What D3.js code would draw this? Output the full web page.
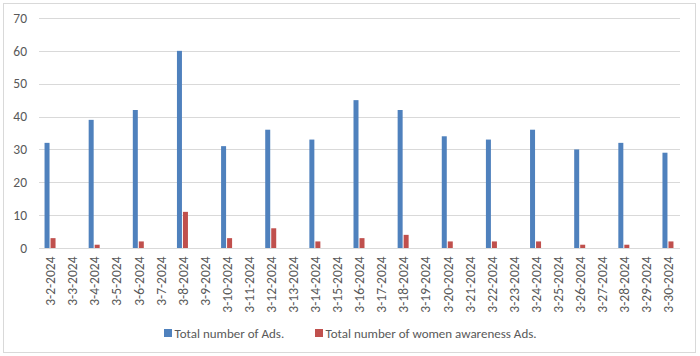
<!DOCTYPE html>
<html><head><meta charset="utf-8">
<script src="https://cdn.jsdelivr.net/npm/d3@7"></script>
<style>body{margin:0;background:#fff}svg{display:block}</style>
</head><body>
<svg id="c" width="700" height="356"></svg>
<script>
const categories = ["3-2-2024","3-3-2024","3-4-2024","3-5-2024","3-6-2024","3-7-2024","3-8-2024","3-9-2024","3-10-2024","3-11-2024","3-12-2024","3-13-2024","3-14-2024","3-15-2024","3-16-2024","3-17-2024","3-18-2024","3-19-2024","3-20-2024","3-21-2024","3-22-2024","3-23-2024","3-24-2024","3-25-2024","3-26-2024","3-27-2024","3-28-2024","3-29-2024","3-30-2024"];
const totalAds = [32,0,39,0,42,0,60,0,31,0,36,0,33,0,45,0,42,0,34,0,33,0,36,0,30,0,32,0,29];
const womenAds = [3,0,1,0,2,0,11,0,3,0,6,0,2,0,3,0,4,0,2,0,2,0,2,0,1,0,1,0,2];
const seriesNames = ["Total number of Ads.","Total number of women awareness Ads."];
const yTicks = [0,10,20,30,40,50,60,70];
const colors = ["#4F81BD","#C0504D"];

const svg = d3.select("#c");
const font = "Calibri, Carlito, 'Liberation Sans', Arial, sans-serif";
svg.append("rect").attr("x",3.5).attr("y",3.5).attr("width",692).attr("height",349)
  .attr("fill","#fff").attr("stroke","#d9d9d9");

const m = {left:39, right:679, top:18, bottom:248};
const x = d3.scaleBand().domain(categories).range([m.left,m.right]);
const y = d3.scaleLinear().domain([0,70]).range([m.bottom,m.top]);

svg.append("g").selectAll("line").data(yTicks).join("line")
  .attr("x1",m.left).attr("x2",m.right+1)
  .attr("y1",d=>Math.round(y(d))+0.5).attr("y2",d=>Math.round(y(d))+0.5)
  .attr("stroke","#d9d9d9").attr("stroke-width",1);

svg.append("g").selectAll("text").data(yTicks).join("text")
  .attr("x",27).attr("y",d=>y(d)).attr("dy","0.35em").attr("text-anchor","end")
  .attr("font-family",font).attr("font-size",13.5).attr("fill","#595959").text(d=>d);

const bw = 5;
const g = svg.append("g");
g.selectAll("rect.a").data(categories).join("rect").attr("class","a")
  .attr("x",(d)=>x(d)+x.bandwidth()/2-bw-0.5).attr("width",bw)
  .attr("y",(d,i)=>y(totalAds[i])).attr("height",(d,i)=>y(0)-y(totalAds[i]))
  .attr("fill",colors[0]);
g.selectAll("rect.b").data(categories).join("rect").attr("class","b")
  .attr("x",(d)=>x(d)+x.bandwidth()/2+0.5).attr("width",bw)
  .attr("y",(d,i)=>y(womenAds[i])).attr("height",(d,i)=>y(0)-y(womenAds[i]))
  .attr("fill",colors[1]);

svg.append("g").selectAll("text").data(categories).join("text")
  .attr("transform",d=>`translate(${x(d)+x.bandwidth()/2+0.5},${m.bottom+8.5}) rotate(-90)`)
  .attr("text-anchor","end").attr("dy","0.35em")
  .attr("font-family",font).attr("font-size",13.5).attr("fill","#595959").text(d=>d);

const leg = svg.append("g");
const lx = [164, 315];
seriesNames.forEach((n,i)=>{
  leg.append("rect").attr("x",lx[i]).attr("y",329).attr("width",8).attr("height",8).attr("fill",colors[i]);
  leg.append("text").attr("x",lx[i]+10.5).attr("y",333).attr("dy","0.35em")
    .attr("font-family",font).attr("font-size",13).attr("fill","#595959").text(n);
});
</script>
</body></html>
